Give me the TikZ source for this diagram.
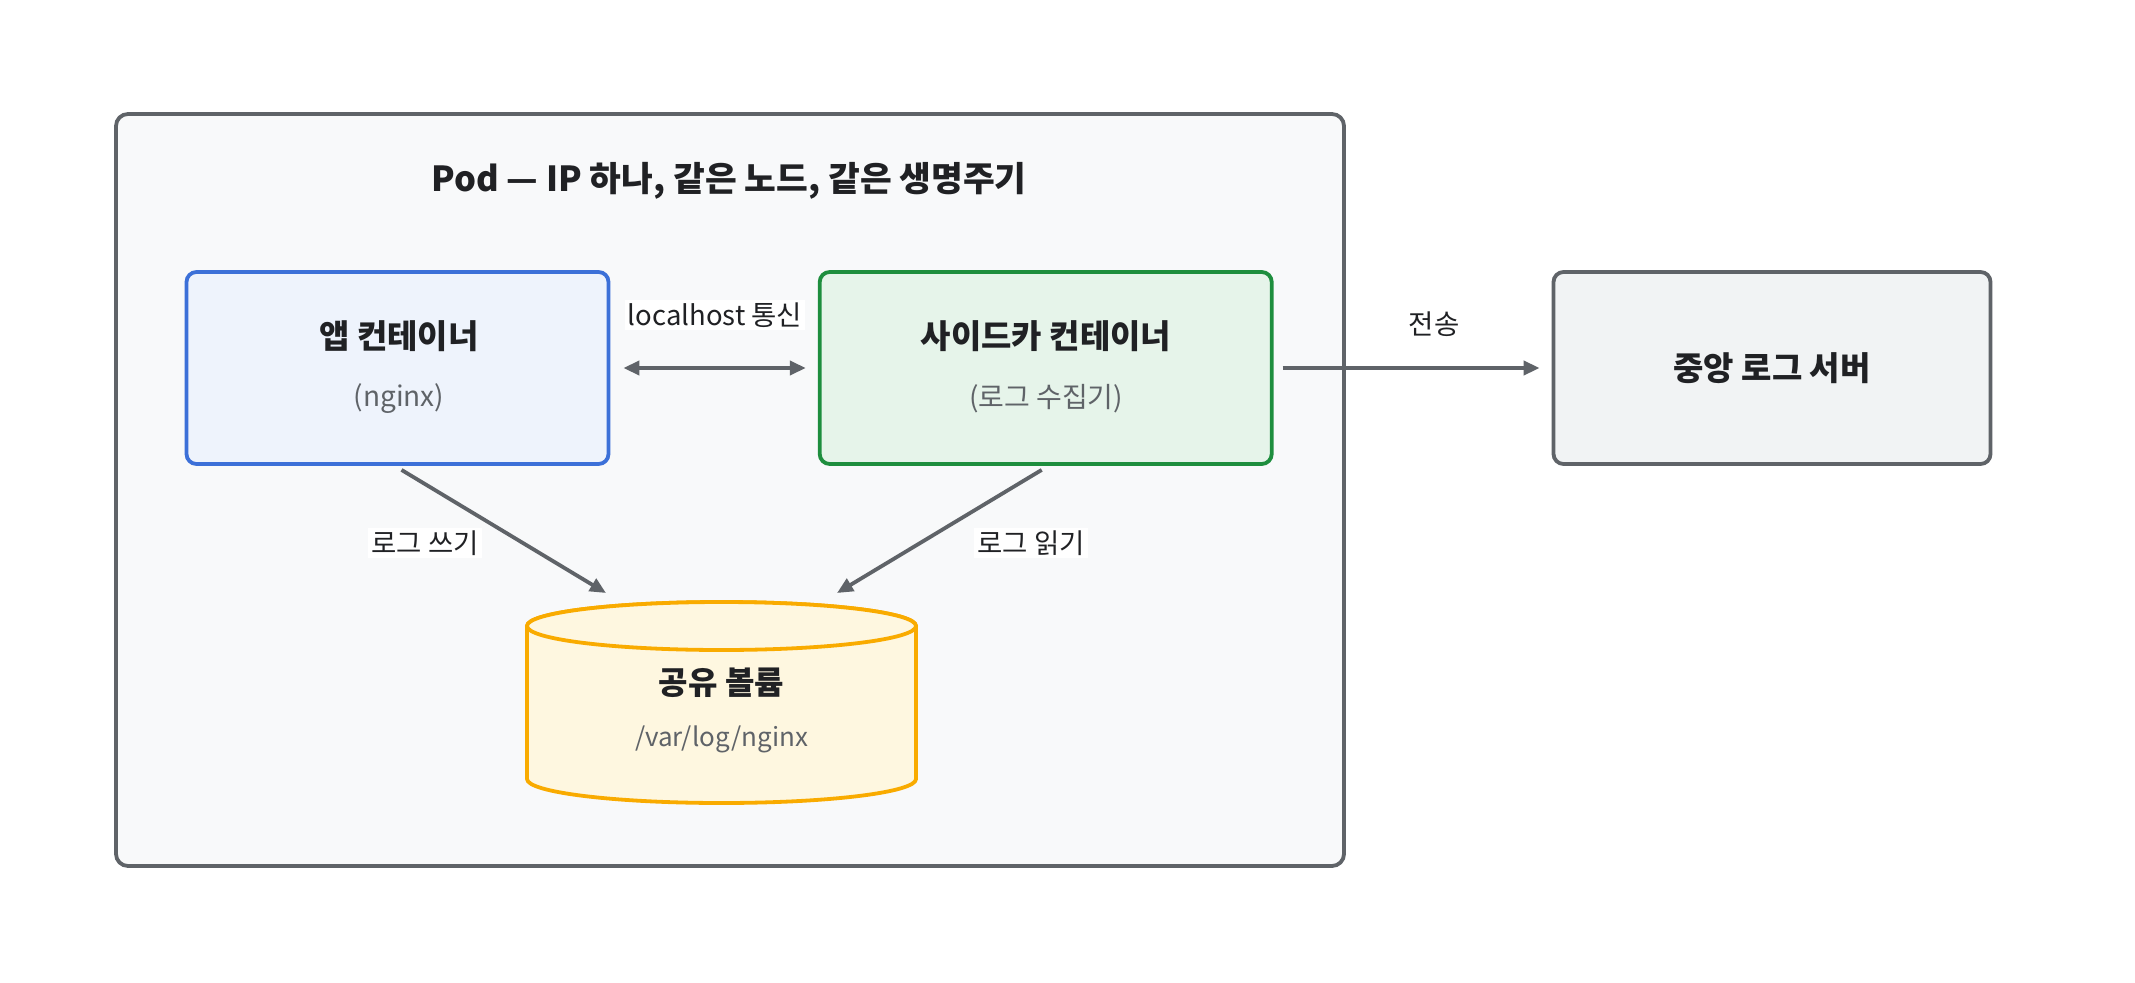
\documentclass[tikz,border=0pt]{standalone}
\usepackage{fontspec}
\setmainfont{Noto Sans CJK KR}
\usetikzlibrary{arrows.meta,calc}
\definecolor{edge}{HTML}{5F6368}
\definecolor{ink}{HTML}{202124}
\definecolor{podfill}{HTML}{F8F9FA}
\definecolor{appline}{HTML}{3C70D8}
\definecolor{appfill}{HTML}{EEF3FC}
\definecolor{sideline}{HTML}{1E8E3E}
\definecolor{sidefill}{HTML}{E6F4EA}
\definecolor{srvfill}{HTML}{F1F3F4}
\definecolor{volline}{HTML}{F9AB00}
\definecolor{volfill}{HTML}{FEF7E0}
\tikzset{
  box/.style={draw, line width=3.8pt, rounded corners=10pt, inner sep=0pt},
  ttl/.style={font=\fontsize{33}{37}\selectfont\bfseries, text=ink},
  sub/.style={font=\fontsize{28}{32}\selectfont, text=edge},
  lbl/.style={font=\fontsize{27.5}{31}\selectfont, text=ink, fill=white, inner sep=3pt},
  conn/.style={draw=edge, line width=3.8pt, -{Triangle[length=16pt,width=14pt]}},
}
\begin{document}
\begin{tikzpicture}[x=1pt,y=-1pt]
\useasboundingbox (0,0) rectangle (2135,982);
\fill[white] (0,0) rectangle (2135,982);
% pod
\draw[draw=edge, fill=podfill, line width=3.8pt, rounded corners=12pt] (116,114) rectangle (1344,866);
\node[font=\fontsize{34.5}{38}\selectfont\bfseries, text=ink] (podtitle) at (729,181) {Pod — IP 하나, 같은 노드, 같은 생명주기};
% boxes
\node[box, draw=appline, fill=appfill, minimum width=422pt, minimum height=192pt] (app) at (397.5,368) {};
\node[ttl] (appt) at (399,336) {앱 컨테이너};
\node[sub] (apps) at (399,399) {(nginx)};
\node[box, draw=sideline, fill=sidefill, minimum width=452pt, minimum height=192pt] (side) at (1045.7,368) {};
\node[ttl] (sidet) at (1046,336) {사이드카 컨테이너};
\node[sub] (sides) at (1046,399) {(로그 수집기)};
\node[box, draw=edge, fill=srvfill, minimum width=437pt, minimum height=192pt] (srv) at (1772,368) {};
\node[ttl] (srvt) at (1772,368) {중앙 로그 서버};
% volume
\def\vl{527}\def\vr{916}\def\vt{626}\def\vb{779}\def\ry{24}
\filldraw[draw=volline, fill=volfill, line width=3.8pt]
  (\vl,\vt) -- (\vl,\vb) arc[start angle=180, end angle=360, x radius=194.5pt, y radius=\ry pt] -- (\vr,\vt)
  arc[start angle=0, end angle=180, x radius=194.5pt, y radius=\ry pt] -- cycle;
\draw[draw=volline, fill=volfill, line width=3.8pt] (721.5,\vt) ellipse[x radius=194.5pt, y radius=\ry pt];
\node[font=\fontsize{32}{36}\selectfont\bfseries, text=ink] (volt) at (721.5,683) {공유 볼륨};
\node[font=\fontsize{26}{30}\selectfont, text=edge] (vols) at (721.5,739) {/var/log/nginx};
\coordinate (vw) at (606,593);
\coordinate (vr) at (837,593);
% connectors
\draw[conn, {Triangle[length=16pt,width=14pt]}-{Triangle[length=16pt,width=14pt]}] ($(app.east)+(13,0)$) -- ($(side.west)+(-12,0)$);
\node[lbl] (lh) at (715,315) {localhost 통신};
\draw[conn] ($(side.east)+(9,0)$) -- ($(srv.west)+(-12,0)$);
\node[font=\fontsize{27.5}{31}\selectfont, text=ink] (send) at (1434,324) {전송};
\draw[conn] ($(app.south)+(4,4)$) -- (vw);
\draw[conn] ($(side.south)+(-4,4)$) -- (vr);
\node[lbl] (wr) at (425,543) {로그 쓰기};
\node[lbl] (rd) at (1031,543) {로그 읽기};
\end{tikzpicture}
\end{document}
